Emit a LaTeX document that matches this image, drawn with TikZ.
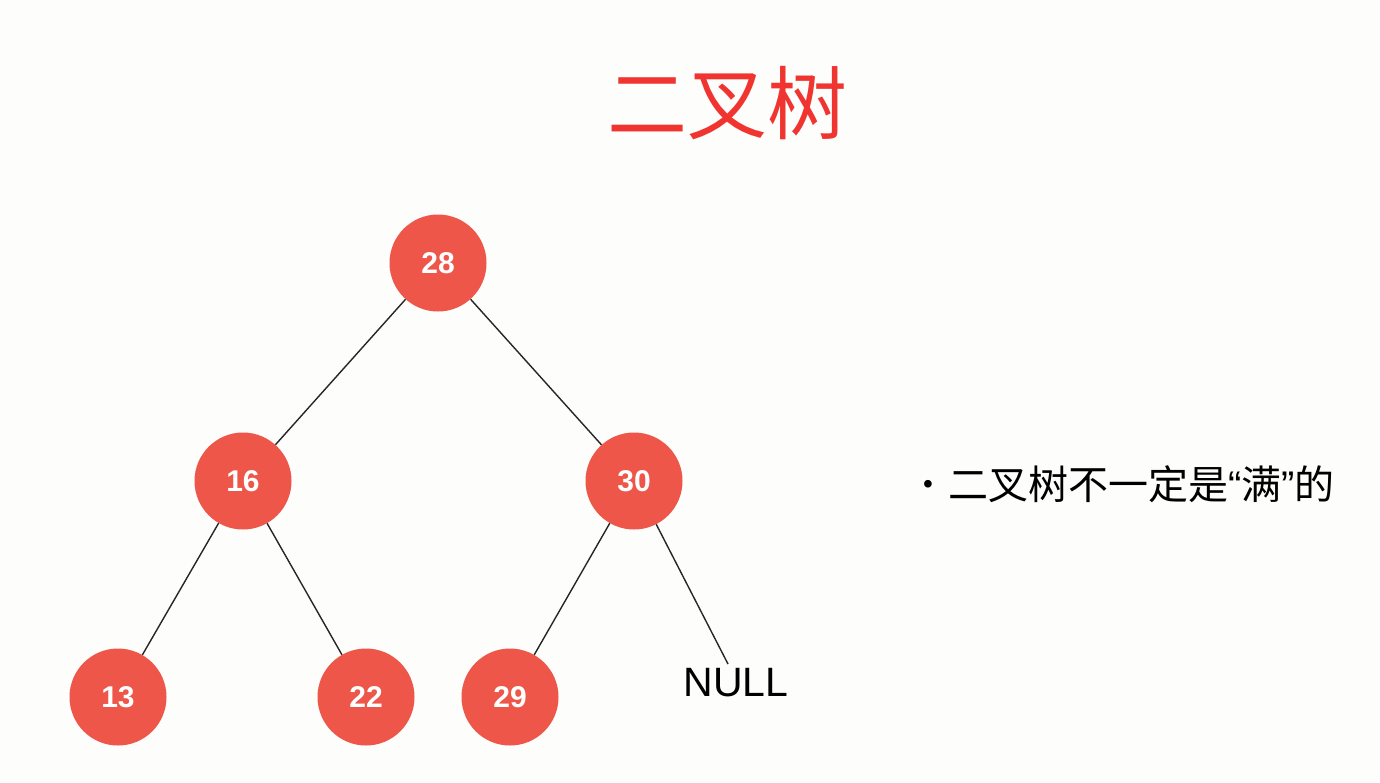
\documentclass[tikz,border=0pt]{standalone}
\usepackage{fontspec}
\setmainfont{Liberation Sans}
\newfontfamily\cjk{Noto Sans CJK SC}
\newfontfamily\latin{Liberation Sans}
\definecolor{nodered}{RGB}{238,86,73}
\definecolor{titlered}{RGB}{240,52,48}
\definecolor{bg}{RGB}{253,253,252}
\begin{document}
\begin{tikzpicture}[x=1pt,y=-1pt,
  tnode/.style={circle,fill=nodered,draw=none,minimum size=97pt,inner sep=0pt,
    text=white,font=\fontsize{30}{30}\selectfont\bfseries},
  edge/.style={draw=black!85,line width=1.4pt}]
\fill[bg] (0,0) rectangle (1380,782);
\useasboundingbox (0,0) rectangle (1380,782);
\node[font=\cjk\fontsize{80}{80}\selectfont,text=titlered] (title) at (727,103) {二叉树};
\node[tnode] (n28) at (438,263) {28};
\node[tnode] (n16) at (243,481) {16};
\node[tnode] (n30) at (634,481) {30};
\node[tnode] (n13) at (118,697) {13};
\node[tnode] (n22) at (366,697) {22};
\node[tnode] (n29) at (510,697) {29};
\node[font=\fontsize{41}{41}\selectfont,inner sep=0pt] (null) at (736,683) {NULL};
\coordinate (nullend) at (728,664);
\draw[edge] (n28) -- (n16);
\draw[edge] (n28) -- (n30);
\draw[edge] (n16) -- (n13);
\draw[edge] (n16) -- (n22);
\draw[edge] (n30) -- (n29);
\draw[edge] (n30) -- (nullend);
\node[anchor=west,font=\cjk\fontsize{40}{40}\selectfont,inner sep=0pt] (note) at (923,484) {\raisebox{6pt}{\latin\fontsize{28}{28}\selectfont •}\hspace{15pt}二叉树不一定是{\latin “}满{\latin ”}的};
\end{tikzpicture}
\end{document}
